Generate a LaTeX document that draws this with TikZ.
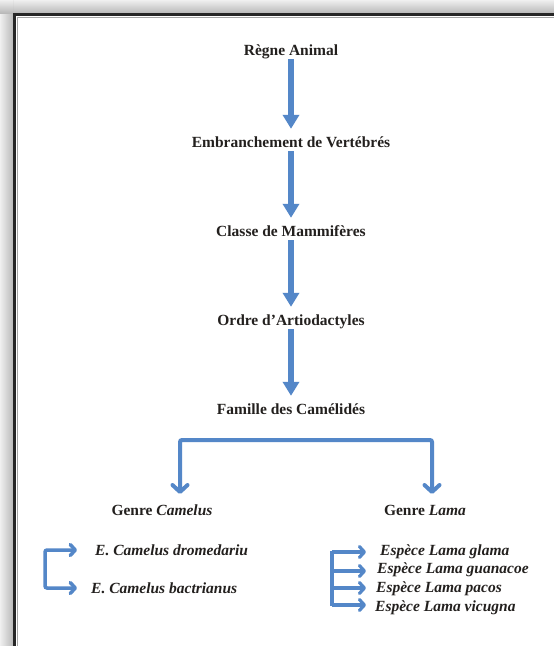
\documentclass[tikz,border=0pt]{standalone}
\usepackage{fontspec}
\setmainfont{Liberation Serif}
\usetikzlibrary{arrows.meta,calc}
\definecolor{arrowblue}{RGB}{84,135,200}
\definecolor{txt}{RGB}{35,32,30}
\begin{document}
\begin{tikzpicture}[x=1pt,y=-1pt,
  lbl/.style={inner sep=0pt, text height=10pt, text depth=0pt, text=txt,
    font=\fontsize{15.5}{18}\selectfont\bfseries},
  sp/.style={lbl, anchor=base west, font=\fontsize{15.5}{18}\selectfont\bfseries\itshape},
  blockarrow/.style={arrowblue, line width=5.5pt,
    -{Triangle[width=16pt,length=14pt]}, shorten <=4pt, shorten >=8pt},
  bracket/.style={arrowblue, line width=4pt, rounded corners=2pt,
    {Straight Barb[length=7pt,width=15pt,line cap=round,line join=round]}-{Straight Barb[length=7pt,width=15pt,line cap=round,line join=round]}},
  smallarrow/.style={arrowblue, line width=3.2pt,
    -{Straight Barb[length=5pt,width=11pt,line cap=round,line join=round]}},
  ]
\useasboundingbox (0,0) rectangle (554,646);
% frame with shadow
\begin{scope}
\clip (0,0) rectangle (554,646);
\fill[white] (0,0) rectangle (554,646);
\shade[top color=gray!12, bottom color=gray!55] (0,0) rectangle (600,13);
\shade[left color=gray!12, right color=gray!55] (0,0) rectangle (13,700);
\shade[top color=gray!12, bottom color=gray!55] (13,0) -- (13,13) -- (0,13) -- (0,0) -- cycle;
\draw[black!85, line width=3pt] (14.5,14.5) rectangle (620,720);
\draw[gray!70, line width=0.8pt] (17,17) rectangle (620,720);
\end{scope}
% hierarchy
\node[lbl, anchor=base] (regne) at (291,55) {Règne Animal};
\node[lbl, anchor=base] (embr) at (291,147) {Embranchement de Vertébrés};
\node[lbl, anchor=base] (classe) at (291,236) {Classe de Mammifères};
\node[lbl, anchor=base] (ordre) at (291,325) {Ordre d’Artiodactyles};
\node[lbl, anchor=base] (fam) at (291,414) {Famille des Camélidés};
\draw[blockarrow] (regne.south) -- (embr.north);
\draw[blockarrow] (embr.south) -- (classe.north);
\draw[blockarrow] (classe.south) -- (ordre.north);
\draw[blockarrow] (ordre.south) -- (fam.north);
% genres
\node[lbl, anchor=base] (gcam) at (162,515) {Genre \textit{Camelus}};
\node[lbl, anchor=base] (glam) at (425,515) {Genre \textit{Lama}};
\coordinate (barL) at (180,440);
\coordinate (barR) at (432,440);
\coordinate (tipL) at (180,494);
\coordinate (tipR) at (432,494);
\draw[bracket] (tipL) -- (barL) -- (barR) -- (tipR);
% Camelus species
\node[sp] (dro) at (95,555) {E. Camelus dromedariu};
\node[sp] (bac) at (91,593) {E. Camelus bactrianus};
\coordinate (cv1) at (45,550);
\coordinate (cv2) at (45,588);
\coordinate (ct1) at (77,550);
\coordinate (ct2) at (77,588);
\draw[bracket, line width=3.5pt,
  {Straight Barb[length=5pt,width=11pt,line cap=round,line join=round]}-{Straight Barb[length=5pt,width=11pt,line cap=round,line join=round]}]
  (ct1) -- (cv1) -- (cv2) -- (ct2);
% Lama species
\node[sp] (l1) at (380,555) {Espèce Lama glama};
\node[sp] (l2) at (377,573) {Espèce Lama guanacoe};
\node[sp] (l3) at (376,592) {Espèce Lama pacos};
\node[sp] (l4) at (375,611) {Espèce Lama vicugna};
\coordinate (lv1) at (332,551);
\coordinate (lv4) at (332,606);
\draw[arrowblue, line width=3.2pt] (lv1) -- (lv4);
\coordinate (la1) at (332,552); \coordinate (lt1) at (366,552);
\coordinate (la2) at (332,571); \coordinate (lt2) at (366,571);
\coordinate (la3) at (332,588); \coordinate (lt3) at (366,588);
\coordinate (la4) at (332,605); \coordinate (lt4) at (366,605);
\draw[smallarrow] (la1) -- (lt1);
\draw[smallarrow] (la2) -- (lt2);
\draw[smallarrow] (la3) -- (lt3);
\draw[smallarrow] (la4) -- (lt4);
\end{tikzpicture}
\end{document}
